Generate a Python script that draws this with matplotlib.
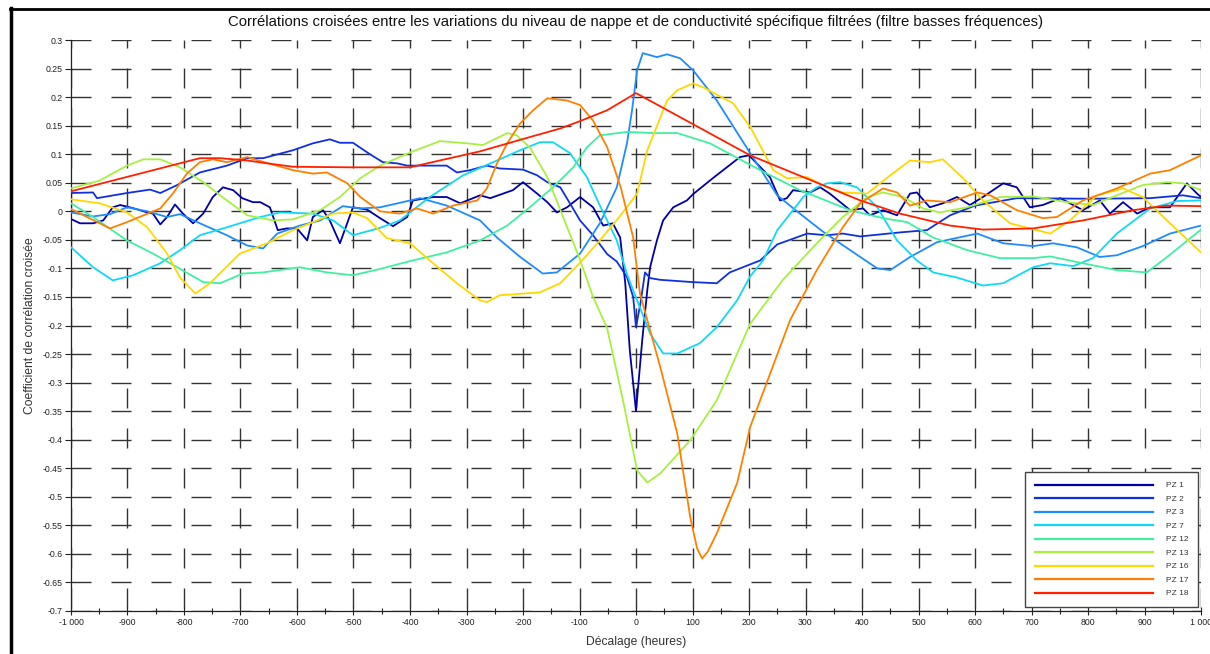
import matplotlib
matplotlib.use('Agg')
import matplotlib.pyplot as plt
from matplotlib.lines import Line2D
from matplotlib.ticker import FixedLocator, FixedFormatter, MultipleLocator

plt.rcParams['font.family'] = ['Liberation Sans', 'DejaVu Sans']
plt.rcParams['axes.unicode_minus'] = False

# ---- données ----
pz1_x = [-999, -984, -961, -943, -926, -913, -896, -878, -865, -855, -842, -830, -816, -802, -784,
         -766, -749, -731, -713, -697, -678, -665, -648, -634, -618, -600, -582, -572, -554, -542,
         -524, -501, -476, -453, -430, -405, -395, -359, -335, -311, -276, -258, -218, -200, -175,
         -157, -140, -122, -99, -76, -58, -41, -28, -19, -11, 0, 11, 20, 25, 37, 48, 66, 90, 101,
         136, 184, 200, 237, 255, 267, 278, 308, 326, 343, 379, 402, 414, 437, 462, 485, 497, 520,
         543, 568, 591, 614, 650, 674, 697, 720, 751, 768, 791, 821, 839, 862, 887, 910, 945, 975,
         993, 1000]
pz1_y = [-0.014, -0.021, -0.021, -0.016, 0.007, 0.011, 0.007, 0.002, -0.002, -0.004, -0.023, -0.01,
         0.012, -0.004, -0.021, -0.004, 0.025, 0.042, 0.037, 0.023, 0.016, 0.016, 0.007, -0.033,
         -0.03, -0.03, -0.051, -0.01, 0.002, -0.016, -0.056, 0.007, 0.003, -0.012, -0.026, -0.01,
         0.019, 0.025, 0.025, 0.014, 0.028, 0.023, 0.037, 0.051, 0.031, 0.016, -0.002, 0.007, 0.025,
         0.007, -0.025, -0.021, -0.046, -0.126, -0.243, -0.35, -0.226, -0.138, -0.098, -0.051,
         -0.016, 0.007, 0.019, 0.03, 0.058, 0.095, 0.098, 0.06, 0.019, 0.023, 0.037, 0.033, 0.042,
         0.031, 0.002, 0.005, -0.007, 0.002, -0.007, 0.031, 0.033, 0.007, 0.014, 0.025, 0.011, 0.025,
         0.049, 0.042, 0.007, 0.011, 0.023, 0.014, 0.002, 0.019, -0.004, 0.016, -0.004, 0.007, 0.007,
         0.049, 0.031, 0.025]

pz2_x = [-1000, -961, -954, -901, -860, -842, -812, -772, -724, -688, -660, -607, -572, -542, -524,
         -501, -471, -448, -423, -405, -335, -317, -294, -264, -241, -200, -175, -157, -134, -117,
         -99, -76, -51, -34, -16, -5, 0, 8, 16, 25, 43, 100, 143, 166, 202, 220, 250, 303, 338, 366,
         397, 467, 515, 556, 600, 674, 800, 910, 968, 1000]
pz2_y = [0.032, 0.033, 0.023, 0.032, 0.038, 0.032, 0.046, 0.068, 0.08, 0.093, 0.093, 0.107, 0.119,
         0.126, 0.12, 0.12, 0.1, 0.086, 0.084, 0.08, 0.08, 0.068, 0.072, 0.08, 0.075, 0.073, 0.063,
         0.051, 0.042, 0.014, -0.016, -0.042, -0.075, -0.088, -0.115, -0.15, -0.203, -0.16, -0.107,
         -0.117, -0.12, -0.124, -0.126, -0.107, -0.093, -0.086, -0.058, -0.039, -0.042, -0.039,
         -0.044, -0.037, -0.033, -0.007, 0.01, 0.023, 0.022, 0.023, 0.028, 0.023]

pz3_x = [-1000, -961, -931, -901, -865, -830, -807, -772, -724, -688, -660, -635, -595, -559, -519,
         -488, -453, -382, -335, -276, -246, -205, -165, -140, -99, -64, -34, -16, -7, 2, 12, 37, 55,
         78, 101, 143, 202, 250, 290, 330, 379, 427, 450, 485, 533, 604, 650, 703, 738, 780, 821,
         851, 897, 945, 1000]
pz3_y = [-0.002, -0.009, -0.005, 0.007, 0.0, -0.01, -0.005, -0.021, -0.042, -0.06, -0.065, -0.039,
         -0.025, -0.016, 0.009, 0.005, 0.007, 0.023, 0.01, -0.016, -0.046, -0.08, -0.109, -0.107,
         -0.074, -0.021, 0.042, 0.119, 0.177, 0.247, 0.277, 0.27, 0.275, 0.268, 0.247, 0.194, 0.102,
         0.028, -0.004, -0.035, -0.068, -0.1, -0.103, -0.08, -0.054, -0.039, -0.056, -0.061, -0.056,
         -0.063, -0.08, -0.077, -0.061, -0.039, -0.025]

pz7_x = [-1000, -961, -926, -890, -842, -807, -772, -724, -665, -630, -572, -536, -501, -453, -418,
         -365, -306, -246, -205, -170, -147, -117, -87, -64, -51, -34, -16, 2, 25, 48, 73, 113, 143,
         179, 202, 225, 250, 278, 296, 320, 338, 361, 391, 427, 462, 497, 526, 568, 614, 650, 703,
         733, 774, 809, 851, 910, 958, 1000]
pz7_y = [-0.063, -0.098, -0.121, -0.112, -0.091, -0.068, -0.042, -0.028, -0.01, -0.002, -0.004,
         -0.016, -0.042, -0.029, -0.016, 0.025, 0.063, 0.089, 0.107, 0.121, 0.121, 0.102, 0.06, 0.01,
         -0.016, -0.051, -0.11, -0.156, -0.214, -0.249, -0.249, -0.231, -0.203, -0.156, -0.114,
         -0.086, -0.033, 0.002, 0.025, 0.042, 0.049, 0.051, 0.042, 0.007, -0.051, -0.086, -0.107,
         -0.116, -0.13, -0.126, -0.098, -0.091, -0.096, -0.082, -0.039, 0.005, 0.018, 0.019]

pz12_x = [-1000, -961, -901, -855, -812, -766, -736, -696, -660, -595, -547, -501, -453, -395, -335,
          -276, -228, -188, -147, -111, -87, -64, -16, 30, 73, 131, 220, 290, 379, 437, 480, 526,
          586, 644, 703, 733, 791, 851, 904, 940, 1000]
pz12_y = [0.014, -0.01, -0.051, -0.074, -0.098, -0.124, -0.126, -0.109, -0.107, -0.098, -0.107,
          -0.112, -0.101, -0.086, -0.072, -0.051, -0.025, 0.007, 0.042, 0.077, 0.112, 0.133, 0.139,
          0.137, 0.137, 0.119, 0.072, 0.037, 0.002, -0.012, -0.019, -0.046, -0.068, -0.082, -0.082,
          -0.079, -0.091, -0.103, -0.107, -0.08, -0.032]

pz13_x = [-1000, -949, -901, -872, -842, -807, -766, -724, -688, -642, -607, -559, -524, -488, -453,
          -400, -347, -299, -271, -228, -211, -188, -157, -129, -99, -76, -51, -23, 2, 20, 43, 96,
          143, 202, 260, 320, 366, 409, 437, 473, 508, 538, 586, 644, 703, 763, 809, 851, 897, 940,
          968, 1000]
pz13_y = [0.04, 0.054, 0.08, 0.091, 0.091, 0.077, 0.051, 0.019, -0.007, -0.016, -0.014, 0.002,
          0.025, 0.058, 0.08, 0.103, 0.123, 0.119, 0.116, 0.137, 0.133, 0.112, 0.06, -0.01, -0.085,
          -0.15, -0.205, -0.331, -0.454, -0.475, -0.459, -0.401, -0.331, -0.197, -0.12, -0.056,
          -0.01, 0.025, 0.033, 0.025, 0.005, -0.002, 0.007, 0.025, 0.026, 0.016, 0.011, 0.028,
          0.046, 0.051, 0.049, 0.037]

pz16_x = [-1000, -949, -901, -865, -830, -807, -780, -754, -701, -653, -607, -572, -536, -501, -476,
          -441, -400, -365, -317, -276, -264, -241, -170, -134, -99, -64, -28, 2, 20, 55, 73, 101,
          119, 172, 202, 243, 267, 303, 338, 366, 409, 450, 485, 520, 543, 579, 614, 662, 733, 768,
          816, 862, 897, 945, 1000]
pz16_y = [0.021, 0.014, -0.002, -0.028, -0.074, -0.116, -0.144, -0.126, -0.074, -0.056, -0.033,
          -0.019, -0.004, -0.002, -0.012, -0.047, -0.056, -0.086, -0.126, -0.156, -0.159, -0.147,
          -0.142, -0.126, -0.09, -0.051, -0.008, 0.031, 0.107, 0.194, 0.212, 0.224, 0.217, 0.189,
          0.148, 0.072, 0.058, 0.06, 0.042, 0.033, 0.031, 0.063, 0.089, 0.086, 0.091, 0.058, 0.019,
          -0.021, -0.039, -0.016, 0.028, 0.04, 0.025, -0.021, -0.072]

pz17_x = [-1000, -931, -901, -842, -819, -795, -772, -749, -724, -688, -665, -607, -572, -547, -511,
          -488, -453, -418, -388, -359, -324, -281, -264, -246, -228, -205, -182, -157, -122, -99,
          -76, -51, -27, -5, 7, 43, 73, 96, 108, 117, 127, 143, 179, 202, 273, 320, 366, 397, 437,
          462, 485, 515, 556, 604, 627, 674, 720, 745, 791, 851, 910, 945, 1000]
pz17_y = [0.004, -0.03, -0.019, 0.005, 0.032, 0.066, 0.086, 0.091, 0.086, 0.095, 0.088, 0.072,
          0.066, 0.068, 0.049, 0.025, 0.0, -0.004, 0.005, -0.004, 0.01, 0.019, 0.04, 0.084, 0.119,
          0.154, 0.177, 0.198, 0.194, 0.186, 0.159, 0.112, 0.042, -0.046, -0.144, -0.273, -0.389,
          -0.536, -0.59, -0.608, -0.596, -0.564, -0.476, -0.378, -0.19, -0.103, -0.028, 0.014,
          0.04, 0.033, 0.01, 0.019, 0.016, 0.033, 0.028, 0.002, -0.012, -0.01, 0.019, 0.04, 0.066,
          0.072, 0.098]

pz18_x = [-1000, -772, -736, -688, -653, -607, -500, -400, -365, -276, -188, -134, -99, -51, 0, 202,
          397, 467, 556, 614, 703, 791, 880, 940, 1000]
pz18_y = [0.035, 0.093, 0.093, 0.089, 0.084, 0.078, 0.077, 0.077, 0.085, 0.105, 0.13, 0.145, 0.158,
          0.177, 0.207, 0.098, 0.019, -0.004, -0.025, -0.032, -0.03, -0.016, 0.002, 0.01, 0.009]

labels = ['PZ 1', 'PZ 2', 'PZ 3', 'PZ 7', 'PZ 12', 'PZ 13', 'PZ 16', 'PZ 17', 'PZ 18']
colors = ['#0000a8', '#1030e0', '#1e8cff', '#10d8f8', '#40f0a0', '#a8f040', '#ffd800', '#ff8000', '#ff2000']
series = [(pz1_x, pz1_y), (pz2_x, pz2_y), (pz3_x, pz3_y), (pz7_x, pz7_y), (pz12_x, pz12_y),
          (pz13_x, pz13_y), (pz16_x, pz16_y), (pz17_x, pz17_y), (pz18_x, pz18_y)]

yticks = [0.3, 0.25, 0.2, 0.15, 0.1, 0.05, 0, -0.05, -0.1, -0.15, -0.2, -0.25, -0.3, -0.35, -0.4,
          -0.45, -0.5, -0.55, -0.6, -0.65, -0.7]
ytick_labels = ['0.3', '0.25', '0.2', '0.15', '0.1', '0.05', '0', '-0.05', '-0.1', '-0.15', '-0.2',
                '-0.25', '-0.3', '-0.35', '-0.4', '-0.45', '-0.5', '-0.55', '-0.6', '-0.65', '-0.7']
xticks = list(range(-1000, 1001, 100))
xtick_labels = ['-1 000', '-900', '-800', '-700', '-600', '-500', '-400', '-300', '-200', '-100', '0',
                '100', '200', '300', '400', '500', '600', '700', '800', '900', '1 000']

# ---- figure ----
W, H = 1210, 654
fig = plt.figure(figsize=(W / 100, H / 100), dpi=100)
fig.patch.set_facecolor('white')
ax = fig.add_axes([71 / W, (H - 611) / H, 1130 / W, 571 / H])

# grille en tirets longs
px = 0.72  # points par pixel
for yv in yticks:
    ax.axhline(yv, color='#333333', lw=1.0, linestyle=(0, (20 * px, 20 * px)), zorder=1)
for xv in xticks:
    ax.axvline(xv, color='#333333', lw=1.0, linestyle=(37 * px, (20 * px, 20 * px)), zorder=1)

for (xs, ys), c, lab in zip(series, colors, labels):
    ax.plot(xs, ys, color=c, lw=1.3, label=lab, zorder=3)

ax.set_xlim(-1000, 1000)
ax.set_ylim(-0.7, 0.3)
ax.xaxis.set_major_locator(FixedLocator(xticks))
ax.xaxis.set_major_formatter(FixedFormatter(xtick_labels))
ax.xaxis.set_minor_locator(MultipleLocator(50))
ax.yaxis.set_major_locator(FixedLocator(yticks))
ax.yaxis.set_major_formatter(FixedFormatter(ytick_labels))
ax.tick_params(axis='both', which='major', labelsize=6.3, colors='#222222', width=0.8)
ax.tick_params(axis='x', which='major', direction='inout', length=6, pad=2)
ax.tick_params(axis='x', which='minor', direction='inout', length=4, width=0.8, color='#222222')
ax.tick_params(axis='y', which='major', direction='out', length=4, pad=2)
for s in ('top', 'right'):
    ax.spines[s].set_visible(False)
for s in ('left', 'bottom'):
    ax.spines[s].set_linewidth(0.9)
    ax.spines[s].set_color('#222222')

fig.text(636 / W, 1 - 22 / H,
         'Corrélations croisées entre les variations du niveau de nappe et de conductivité spécifique filtrées (filtre basses fréquences)',
         ha='center', va='center', fontsize=10.7, color='#111111')
fig.text(30 / W, 1 - 326 / H, 'Coefficient de corrélation croisée', rotation=90,
         ha='center', va='center', fontsize=8.7, color='#333333')
fig.text(636 / W, 1 - 642 / H, 'Décalage (heures)', ha='center', va='center',
         fontsize=8.7, color='#333333')

leg = ax.legend(loc='lower right', bbox_to_anchor=(0.997, 0.007), borderaxespad=0,
                fontsize=6, handlelength=14.2, handletextpad=1.5, labelspacing=0.68,
                borderpad=1.15, fancybox=False, framealpha=1, edgecolor='#444444')
leg.get_frame().set_linewidth(1.0)
for t in leg.get_texts():
    t.set_color('#333333')
for l in leg.get_lines():
    l.set_linewidth(1.6)

# cadre extérieur (gauche et haut)
fig.add_artist(Line2D([11 / W, 11 / W], [0, 1 - 8 / H], color='black', lw=2.5,
                      transform=fig.transFigure))
fig.add_artist(Line2D([10 / W, 1], [1 - 9 / H, 1 - 9 / H], color='black', lw=2,
                      transform=fig.transFigure))

fig.savefig('out.png', dpi=100, facecolor='white')
